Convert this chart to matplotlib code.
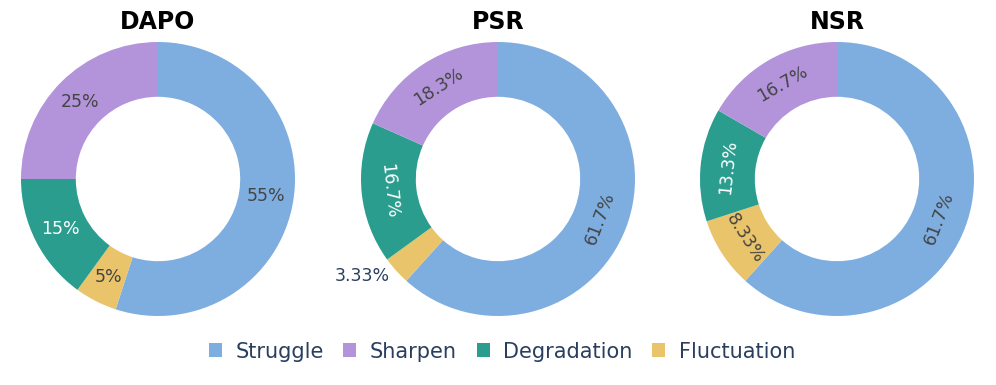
import numpy as np
import matplotlib
matplotlib.use('Agg')
import matplotlib.pyplot as plt
from matplotlib.patches import Patch

plt.rcParams['font.family'] = ['DejaVu Sans']

# slice order as drawn (clockwise from 12 o'clock)
categories = ['Struggle', 'Fluctuation', 'Degradation', 'Sharpen']
legend_order = ['Struggle', 'Sharpen', 'Degradation', 'Fluctuation']
colors = {'Struggle': '#7eaee0', 'Sharpen': '#b394db',
          'Degradation': '#2a9d8f', 'Fluctuation': '#e9c46a'}

titles = ['DAPO', 'PSR', 'NSR']
dapo_counts = [11, 1, 3, 5]
psr_counts = [37, 2, 10, 11]
nsr_counts = [37, 5, 8, 10]
all_counts = [dapo_counts, psr_counts, nsr_counts]
rotate_text = [False, True, True]

W, H = 996, 385
fig = plt.figure(figsize=(W / 100, H / 100), dpi=100)

centers_x = [158, 498, 837]
center_y = 179
radius_px = 137
hole = 0.6

for title, counts, cx, rot in zip(titles, all_counts, centers_x, rotate_text):
    ax = fig.add_axes([(cx - radius_px) / W, (H - center_y - radius_px) / H,
                       2 * radius_px / W, 2 * radius_px / H])
    wedges, _ = ax.pie(counts, colors=[colors[c] for c in categories],
                       startangle=90, counterclock=False, radius=1,
                       wedgeprops=dict(width=1 - hole, linewidth=0))
    ax.set_xlim(-1, 1)
    ax.set_ylim(-1, 1)
    ax.axis('off')

    total = sum(counts)
    for w, cat, n in zip(wedges, categories, counts):
        pct = 100 * n / total
        label = '{:.3g}%'.format(pct)
        mid = np.deg2rad((w.theta1 + w.theta2) / 2)
        if pct < 4:
            # too small: put the label outside
            r = 1.06
            ax.text(r * np.cos(mid), r * np.sin(mid), label, ha='right', va='center',
                    fontsize=12.5, color='#2a3f5f')
            continue
        r = (1 + hole) / 2
        angle = 0
        if rot:
            angle = np.rad2deg(mid) - 90
            angle = (angle + 180) % 360 - 180
            if angle > 90:
                angle -= 180
            elif angle < -90:
                angle += 180
        txt_color = 'white' if cat == 'Degradation' else '#444444'
        ax.text(r * np.cos(mid), r * np.sin(mid), label, ha='center', va='center',
                rotation=angle, rotation_mode='anchor', fontsize=12.5, color=txt_color)

    fig.text(cx / W, 1 - 22 / H, title, ha='center', va='center',
             fontsize=17, fontweight='bold', color='black')

handles = [Patch(facecolor=colors[c], edgecolor='none', label=c) for c in legend_order]
leg = fig.legend(handles=handles, loc='center', bbox_to_anchor=(502 / W, 33.5 / H),
                 ncol=4, frameon=False, fontsize=15, handlelength=0.62, handleheight=0.62,
                 handletextpad=0.65, columnspacing=0.95, borderpad=0)
for t in leg.get_texts():
    t.set_color('#2a3f5f')

fig.savefig('out.png', dpi=100)
